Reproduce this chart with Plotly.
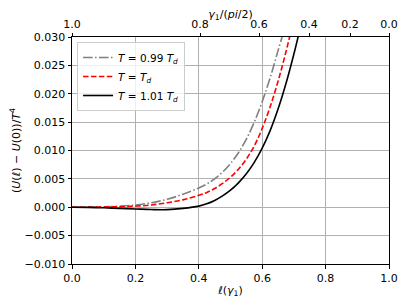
import plotly.graph_objects as go

# ---- data ----
ell_099 = [0.0, 0.05, 0.1, 0.15, 0.2, 0.25, 0.3, 0.35, 0.4, 0.425, 0.45, 0.475, 0.5, 0.525, 0.55, 0.575, 0.6, 0.625, 0.65, 0.668]
u_099 = [0.0, 0.00002, 0.00008, 0.0002, 0.0004, 0.0008, 0.0014, 0.0023, 0.0034, 0.0041, 0.0050, 0.0062, 0.0077, 0.0096, 0.0120, 0.0150, 0.0186, 0.0228, 0.0276, 0.0310]

ell_100 = [0.0, 0.05, 0.1, 0.15, 0.2, 0.25, 0.3, 0.35, 0.4, 0.425, 0.45, 0.475, 0.5, 0.525, 0.55, 0.575, 0.6, 0.625, 0.65, 0.675, 0.695]
u_100 = [0.0, 0.00001, 0.00004, 0.0001, 0.0002, 0.0004, 0.0008, 0.0013, 0.0021, 0.0026, 0.0033, 0.0042, 0.0053, 0.0067, 0.0085, 0.0108, 0.0139, 0.0177, 0.0222, 0.0274, 0.0320]

ell_101 = [0.0, 0.05, 0.1, 0.15, 0.2, 0.25, 0.3, 0.35, 0.4, 0.425, 0.45, 0.475, 0.5, 0.525, 0.55, 0.575, 0.6, 0.625, 0.65, 0.675, 0.7, 0.72]
u_101 = [0.0, -0.00003, -0.0001, -0.0002, -0.0003, -0.0004, -0.00042, -0.0002, 0.0002, 0.0006, 0.0012, 0.0020, 0.0030, 0.0043, 0.0059, 0.0079, 0.0104, 0.0135, 0.0173, 0.0218, 0.0270, 0.0316]

series_names = ["<i>T</i> = 0.99 <i>T<sub>d</sub></i>", "<i>T</i> = <i>T<sub>d</sub></i>", "<i>T</i> = 1.01 <i>T<sub>d</sub></i>"]

x_ticks = [0.0, 0.2, 0.4, 0.6, 0.8, 1.0]
x_ticktext = ["0.0", "0.2", "0.4", "0.6", "0.8", "1.0"]
y_ticks = [-0.010, -0.005, 0.0, 0.005, 0.010, 0.015, 0.020, 0.025, 0.030]
y_ticktext = ["\u22120.010", "\u22120.005", "0.000", "0.005", "0.010", "0.015", "0.020", "0.025", "0.030"]

# top axis: gamma_1/(pi/2) labels and the ell values where they sit
gamma_labels = ["1.0", "0.8", "0.6", "0.4", "0.2", "0.0"]
gamma_at_ell = [0.0, 0.404, 0.590, 0.748, 0.877, 1.0]

FONT = "DejaVu Sans"
FS = 11

fig = go.Figure()
fig.add_trace(go.Scatter(x=ell_099, y=u_099, mode="lines", name=series_names[0],
                         line=dict(color="#808080", width=1.6, dash="9.6px,2.4px,1.5px,2.4px", shape="spline")))
fig.add_trace(go.Scatter(x=ell_100, y=u_100, mode="lines", name=series_names[1],
                         line=dict(color="red", width=1.6, dash="5.5px,2.4px", shape="spline")))
fig.add_trace(go.Scatter(x=ell_101, y=u_101, mode="lines", name=series_names[2],
                         line=dict(color="black", width=1.6, shape="spline")))
# invisible trace for top axis
fig.add_trace(go.Scatter(x=[0, 1], y=[0, 0], xaxis="x2", mode="lines",
                         line=dict(width=0), showlegend=False, hoverinfo="skip"))

fig.update_layout(
    width=399, height=297,
    margin=dict(l=64, r=18, t=29, b=41),
    paper_bgcolor="white", plot_bgcolor="white",
    font=dict(family=FONT, size=FS, color="black"),
    showlegend=True,
    legend=dict(x=0.016, y=0.978, xanchor="left", yanchor="top",
                bgcolor="rgba(255,255,255,0.8)", bordercolor="#cccccc", borderwidth=1,
                font=dict(family=FONT, size=10.5), tracegroupgap=0, itemwidth=30),
    xaxis=dict(range=[0, 1], tickvals=x_ticks, ticktext=x_ticktext, automargin=False,
               showgrid=True, gridcolor="#b0b0b0", gridwidth=0.8,
               showline=True, linecolor="black", linewidth=1, mirror=True,
               ticks="outside", ticklen=3.5, tickcolor="black", zeroline=False,
               title=dict(text="<i>ℓ</i>(<i>γ</i><sub>1</sub>)", standoff=2,
                          font=dict(family=FONT, size=FS))),
    xaxis2=dict(range=[0, 1], overlaying="x", side="top", automargin=False,
                tickvals=gamma_at_ell, ticktext=gamma_labels,
                showgrid=False, showline=False, zeroline=False,
                ticks="outside", ticklen=3.5, tickcolor="black",
                title=dict(text="<i>γ</i><sub>1</sub>/(<i>pi</i>/2)", standoff=2,
                           font=dict(family=FONT, size=FS))),
    yaxis=dict(range=[-0.010, 0.030], tickvals=y_ticks, ticktext=y_ticktext, automargin=False,
               showgrid=True, gridcolor="#b0b0b0", gridwidth=0.8,
               showline=True, linecolor="black", linewidth=1, mirror=True,
               ticks="outside", ticklen=3.5, tickcolor="black", zeroline=False,
               title=dict(text="(<i>U</i>(<i>ℓ</i>) \u2212 <i>U</i>(0))/<i>T</i><sup>4</sup>",
                          standoff=9, font=dict(family=FONT, size=FS))),
)

fig.write_html("out.html")
